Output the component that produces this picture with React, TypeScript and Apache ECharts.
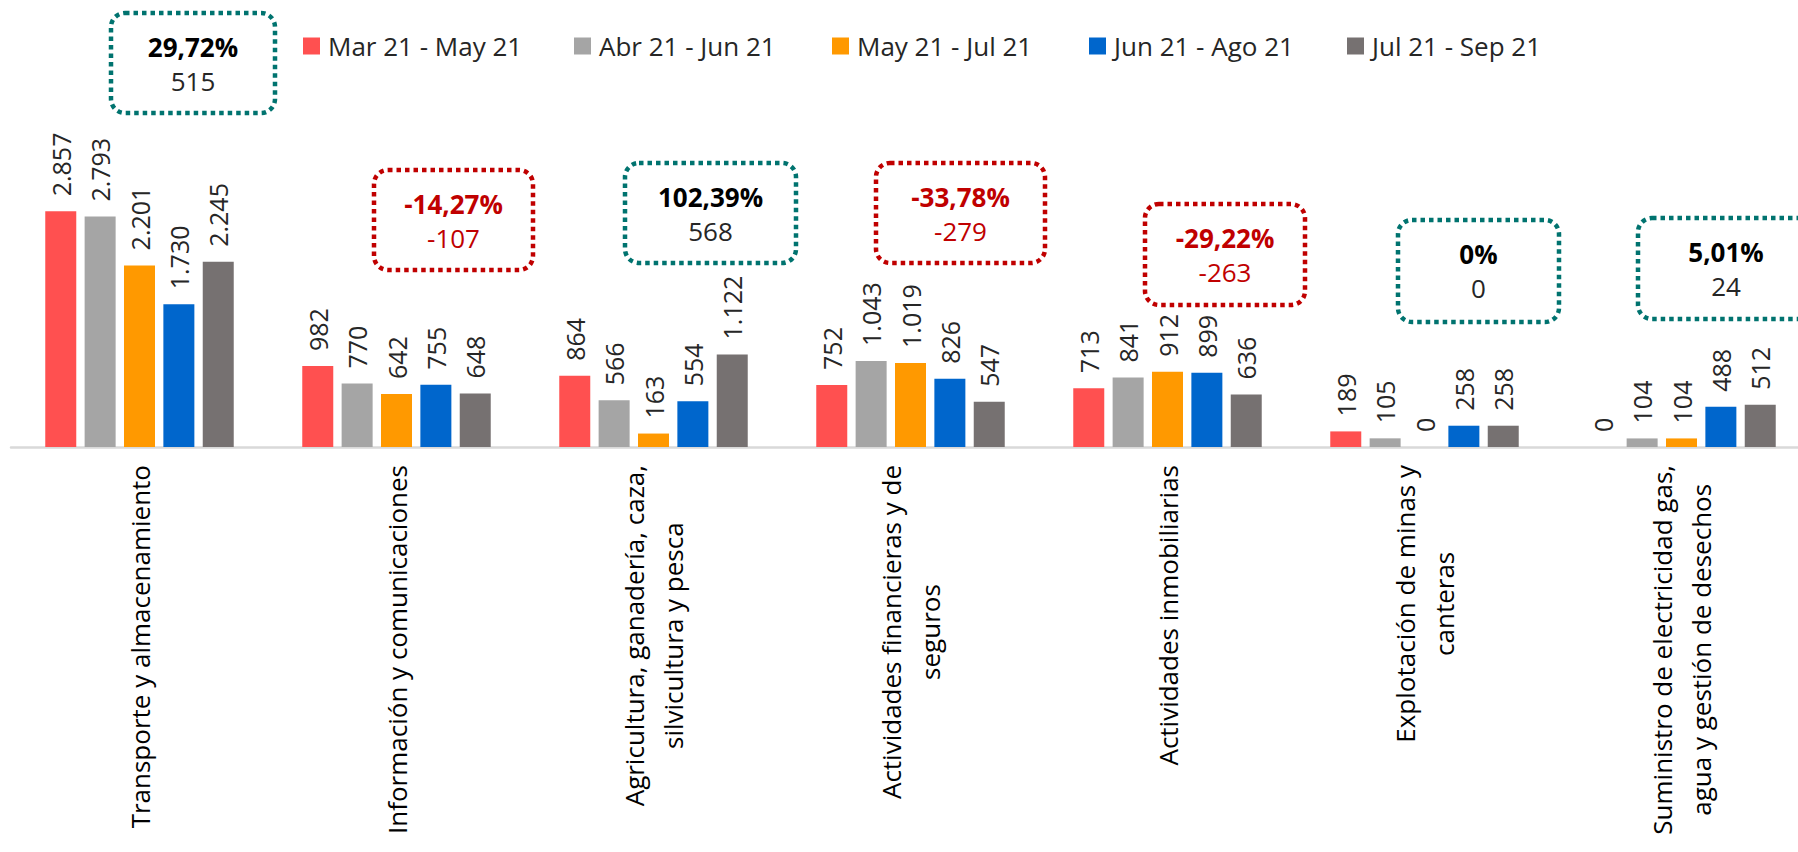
import React, { useEffect, useRef } from "react";
import * as echarts from "echarts";

const categories = [
  "Transporte y almacenamiento",
  "Información y comunicaciones",
  "Agricultura, ganadería, caza,\nsilvicultura y pesca",
  "Actividades financieras y de\nseguros",
  "Actividades inmobiliarias",
  "Explotación de minas y\ncanteras",
  "Suministro de electricidad gas,\nagua y gestión de desechos",
];

const seriesNames = [
  "Mar 21 - May 21",
  "Abr 21 - Jun 21",
  "May 21 - Jul 21",
  "Jun 21 - Ago 21",
  "Jul 21 - Sep 21",
];

const marMay = [2857, 982, 864, 752, 713, 189, 0];
const abrJun = [2793, 770, 566, 1043, 841, 105, 104];
const mayJul = [2201, 642, 163, 1019, 912, 0, 104];
const junAgo = [1730, 755, 554, 826, 899, 258, 488];
const julSep = [2245, 648, 1122, 547, 636, 258, 512];

const changePct = ["29,72%", "-14,27%", "102,39%", "-33,78%", "-29,22%", "0%", "5,01%"];
const changeAbs = [515, -107, 568, -279, -263, 0, 24];

const seriesColors = ["#FF5050", "#A5A5A5", "#FF9900", "#0066CC", "#767171"];
const FONT = "'Open Sans', 'Noto Sans', sans-serif";

function fmt(n: number): string {
  const s = Math.abs(n).toString().replace(/\B(?=(\d{3})+(?!\d))/g, ".");
  return (n < 0 ? "-" : "") + s;
}

export default function App() {
  const ref = useRef<HTMLDivElement>(null);

  useEffect(() => {
    if (!ref.current) return;
    const chart = echarts.init(ref.current, undefined, { renderer: "svg" });

    const allData = [marMay, abrJun, mayJul, junAgo, julSep];

    const legendLefts = [298, 569, 827, 1084, 1342];
    const legends = seriesNames.map((name, i) => ({
      show: true,
      data: [name],
      left: legendLefts[i],
      top: 28,
      icon: "rect",
      itemWidth: 17,
      itemHeight: 17,
      textStyle: {
        fontFamily: FONT,
        fontSize: 26,
        color: "#262626",
        padding: [0, 0, 0, 3],
      },
    }));

    const boxes = [
      { x: 111, y: 13, w: 164, h: 100 },
      { x: 374, y: 170, w: 159, h: 100 },
      { x: 625, y: 163, w: 171, h: 100 },
      { x: 876, y: 163, w: 169, h: 100 },
      { x: 1145, y: 204, w: 160, h: 101 },
      { x: 1398, y: 220, w: 161, h: 102 },
      { x: 1638, y: 218, w: 176, h: 101 },
    ];

    const graphics: any[] = [];
    boxes.forEach((b, i) => {
      const pos = changeAbs[i] >= 0;
      const border = pos ? "#00736F" : "#C00000";
      const c1 = pos ? "#000000" : "#C00000";
      const c2 = pos ? "#262626" : "#C00000";
      graphics.push({
        type: "rect",
        shape: { x: b.x, y: b.y, width: b.w, height: b.h, r: 14 },
        style: {
          fill: "none",
          stroke: border,
          lineWidth: 4.5,
          lineDash: [4.5, 4],
        },
        silent: true,
      });
      graphics.push({
        type: "text",
        x: b.x + b.w / 2,
        y: b.y + 34,
        style: {
          text: changePct[i],
          fontFamily: FONT,
          fontSize: 26,
          fontWeight: "bold",
          fill: c1,
          align: "center",
          verticalAlign: "middle",
        },
        silent: true,
      });
      graphics.push({
        type: "text",
        x: b.x + b.w / 2,
        y: b.y + 68,
        style: {
          text: fmt(changeAbs[i]),
          fontFamily: FONT,
          fontSize: 26,
          fill: c2,
          align: "center",
          verticalAlign: "middle",
        },
        silent: true,
      });
    });

    chart.setOption({
      animation: false,
      backgroundColor: "#ffffff",
      legend: legends,
      grid: { left: 11, top: 117, width: 1799, height: 330, containLabel: false },
      xAxis: {
        type: "category",
        data: categories,
        axisLine: { show: true, lineStyle: { color: "#D9D9D9", width: 2.5 } },
        axisTick: { show: false },
        axisLabel: {
          interval: 0,
          rotate: 90,
          margin: 18,
          fontFamily: FONT,
          fontSize: 26,
          color: "#000000",
          hideOverlap: false,
          formatter: (v: string) =>
            v
              .split("\n")
              .map((l) => `{c|${l}}`)
              .join("\n"),
          rich: {
            c: {
              align: "center",
              fontFamily: FONT,
              fontSize: 26,
              lineHeight: 39,
              color: "#000000",
            },
          },
        },
      },
      yAxis: {
        type: "value",
        min: 0,
        max: 4000,
        show: false,
        splitLine: { show: false },
      },
      series: seriesNames.map((name, i) => ({
        name,
        type: "bar",
        data: allData[i],
        barWidth: 31,
        barGap: "27%",
        itemStyle: { color: seriesColors[i] },
        label: {
          show: true,
          position: "top",
          rotate: 90,
          align: "left",
          verticalAlign: "middle",
          distance: 15,
          fontFamily: FONT,
          fontSize: 25,
          color: "#262626",
          formatter: (p: any) => fmt(p.value),
        },
      })),
      graphic: graphics,
    });

    return () => {
      chart.dispose();
    };
  }, []);

  return (
    <div
      style={{
        position: "fixed",
        left: 0,
        top: 0,
        width: 1798,
        height: 852,
        overflow: "hidden",
        background: "#ffffff",
      }}
    >
      <div ref={ref} style={{ width: 1840, height: 852 }} />
    </div>
  );
}
